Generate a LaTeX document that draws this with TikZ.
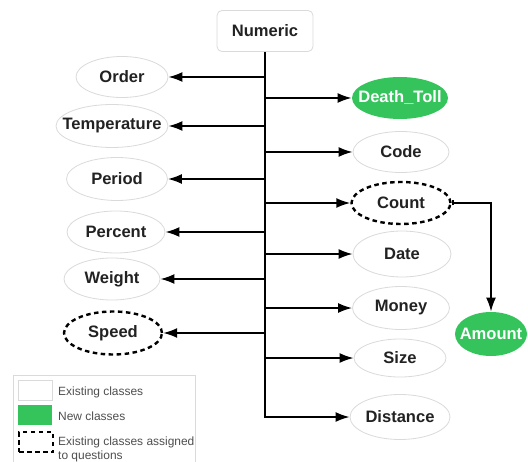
\documentclass[tikz,border=0pt]{standalone}
\usepackage{fontspec}
\setmainfont{Liberation Sans}
\usetikzlibrary{shapes.geometric,arrows.meta}
\definecolor{newgreen}{RGB}{53,196,92}
\definecolor{softgray}{RGB}{218,218,218}
\definecolor{inkgray}{RGB}{34,34,34}
% label of zero width, so the ellipse keeps the size given to it
\newcommand\cltext[1]{\makebox[0pt]{#1}}
\begin{document}
\begin{tikzpicture}[x=1bp,y=-1bp,
  cls/.style={ellipse, draw=softgray, line width=0.8bp, fill=white, inner sep=0pt,
    text=inkgray, font=\fontsize{16.6}{18}\selectfont\bfseries},
  newcls/.style={cls, draw=none, fill=newgreen, text=white},
  askcls/.style={cls, draw=black, line width=2.4bp, dash pattern=on 4.5bp off 3.5bp},
  link/.style={line width=1.8bp, -{Latex[length=14bp,width=10bp]}},
  swatch/.style={minimum width=34bp, minimum height=20bp, inner sep=0pt, anchor=north west},
  legtext/.style={anchor=west, inner sep=0pt, text=inkgray!80, align=left,
    font=\fontsize{12}{14}\selectfont},
]
\useasboundingbox (0,0) rectangle (528,462);

% root
\node (num) [draw=softgray, line width=0.8bp, rounded corners=5bp, fill=white,
  minimum width=96bp, minimum height=41bp, text=inkgray,
  font=\fontsize{16.6}{18}\selectfont\bfseries] at (265,31) {Numeric};

% classes on the left
\node (order)  [cls, minimum width=92bp,  minimum height=41bp] at (122,77)  {\cltext{Order}};
\node (temp)   [cls, minimum width=112bp, minimum height=43bp] at (112,126) {\cltext{Temperature}};
\node (period) [cls, minimum width=101bp, minimum height=43bp] at (117,179) {\cltext{Period}};
\node (pct)    [cls, minimum width=98bp,  minimum height=42bp] at (116,232) {\cltext{Percent}};
\node (weight) [cls, minimum width=96bp,  minimum height=42bp] at (112,279) {\cltext{Weight}};
\node (speed)  [askcls, minimum width=98bp, minimum height=43bp] at (113,333) {\cltext{Speed}};

% classes on the right
\node (death)  [newcls, minimum width=96bp, minimum height=42bp] at (400,98)  {\cltext{Death\_Toll}};
\node (code)   [cls, minimum width=96bp,  minimum height=41bp] at (401,152) {\cltext{Code}};
\node (count)  [askcls, minimum width=99bp, minimum height=42bp] at (401,203) {\cltext{Count}};
\node (date)   [cls, minimum width=98bp,  minimum height=46bp] at (402,254) {\cltext{Date}};
\node (money)  [cls, minimum width=97bp,  minimum height=43bp] at (401,308) {\cltext{Money}};
\node (size)   [cls, minimum width=92bp,  minimum height=38bp] at (400,358) {\cltext{Size}};
\node (dist)   [cls, minimum width=100bp, minimum height=45bp] at (400,417) {\cltext{Distance}};
\node (amount) [newcls, minimum width=72bp, minimum height=44bp] at (491,334) {\cltext{Amount}};

% trunk and branches
\draw[link] (num.south) |- (dist);
\foreach \n in {order,temp,period,pct,weight,speed,death,code,count,date,money,size}
  \draw[link] (num.south |- \n) -- (\n);
\draw[line width=1.8bp, {Bar[width=5bp,length=1.5bp]}-{Latex[length=14bp,width=10bp]}]
  (count.east) -| (amount.north);

% legend
\node (legend) [draw=softgray, line width=0.8bp, minimum width=182bp, minimum height=96bp,
  inner sep=0pt, anchor=north west] at (13,375) {};
\node (sw1) [swatch, draw=softgray, line width=0.8bp, fill=white] at (18,380) {};
\node (sw2) [swatch, fill=newgreen] at (18,405) {};
\node (sw3) [swatch, draw=black, line width=2.4bp, dash pattern=on 4.5bp off 3.5bp] at (18,431) {};
\node (lt1) [legtext] at (58,392) {Existing classes};
\node (lt2) [legtext] at (58,416) {New classes};
\node (lt3) [legtext] at (58,449) {Existing classes assigned\\to questions};
\end{tikzpicture}
\end{document}
